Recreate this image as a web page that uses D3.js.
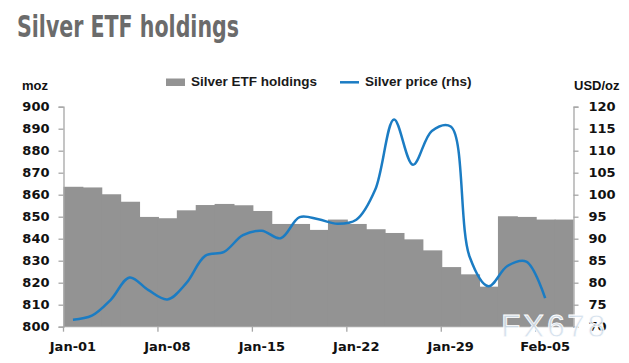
<!DOCTYPE html>
<html>
<head>
<meta charset="utf-8">
<script src="https://cdn.jsdelivr.net/npm/d3@7"></script>
<style>
  body { margin: 0; background: #fff; }
  svg { display: block; }
</style>
</head>
<body>
<svg id="grafiek" width="629" height="363"></svg>
<script>
// trading days (categories)
const days = ["Jan-01", "Jan-02", "Jan-05", "Jan-06", "Jan-07",
  "Jan-08", "Jan-09", "Jan-12", "Jan-13", "Jan-14",
  "Jan-15", "Jan-16", "Jan-19", "Jan-20", "Jan-21",
  "Jan-22", "Jan-23", "Jan-26", "Jan-27", "Jan-28",
  "Jan-29", "Jan-30", "Feb-02", "Feb-03", "Feb-04",
  "Feb-05", "Feb-06"];

// silver ETF holdings, moz
const holdings = [863.6, 863.3, 860.2, 856.8, 849.9, 849.3, 852.9, 855.3, 855.8, 855.2,
  852.6, 846.7, 846.7, 844.0, 848.7, 846.7, 844.3, 842.6, 839.7, 834.7,
  827.1, 823.8, 818.2, 850.2, 849.9, 848.7, 848.7];

// silver price, USD/oz (rhs)
const price = [71.6, 72.5, 76.1, 81.2, 78.3, 76.2, 79.9, 86.1, 87.0, 90.8,
  91.8, 90.1, 94.9, 94.4, 93.4, 94.3, 101.1, 117.1, 106.8, 114.5,
  115.5, 85.9, 79.2, 83.8, 84.8, 76.5];

const leftTicks = [800, 810, 820, 830, 840, 850, 860, 870, 880, 890, 900];
const rightTicks = [70, 75, 80, 85, 90, 95, 100, 105, 110, 115, 120];
const labelDays = ["Jan-01", "Jan-08", "Jan-15", "Jan-22", "Jan-29", "Feb-05"];

const svg = d3.select("#grafiek");
const tickFont = "'DejaVu Sans', Verdana, sans-serif";
const textFont = "'Liberation Sans', Arial, sans-serif";
const axisColor = "#a6a6a6";

//schalen
const x = d3.scaleBand().domain(days).range([63.5, 573.5]).padding(0);
const yL = d3.scaleLinear().domain([800, 900]).range([326.7, 106.7]);
const yR = d3.scaleLinear().domain([70, 120]).range([326.7, 106.7]);

// title
svg.append("text")
  .attr("x", 17).attr("y", 36.5)
  .attr("font-family", "'Liberation Sans Narrow', 'DejaVu Sans Condensed', 'Liberation Sans', sans-serif")
  .attr("font-stretch", "condensed")
  .attr("font-weight", "bold")
  .attr("font-size", 31)
  .attr("fill", "#6b6b6b")
  .attr("textLength", 222)
  .attr("lengthAdjust", "spacingAndGlyphs")
  .text("Silver ETF holdings");

// bars (overlap a little so no seams show between them)
svg.append("g")
  .selectAll("rect")
  .data(holdings)
  .join("rect")
  .attr("x", (d, i) => x(days[i]))
  .attr("width", (d, i) => x.bandwidth() + (i < holdings.length - 1 ? 1 : 0))
  .attr("y", d => yL(d))
  .attr("height", d => yL(800) - yL(d))
  .attr("fill", "#939393");

// price line
const line = d3.line()
  .x((d, i) => x(days[i]) + x.bandwidth() / 2)
  .y(d => yR(d))
  .curve(d3.curveCatmullRom.alpha(0.5));

svg.append("path")
  .datum(price)
  .attr("d", line)
  .attr("fill", "none")
  .attr("stroke", "#1b7cc3")
  .attr("stroke-width", 2.5);

// left axis
const gL = svg.append("g").attr("transform", "translate(63.5,0)")
  .call(d3.axisLeft(yL).tickValues(leftTicks).tickSize(5).tickPadding(9));
// right axis
const gR = svg.append("g").attr("transform", "translate(573.5,0)")
  .call(d3.axisRight(yR).tickValues(rightTicks).tickSize(5).tickPadding(10));
// x axis
const gX = svg.append("g").attr("transform", "translate(0,326.7)")
  .call(d3.axisBottom(x).tickValues(labelDays).tickSize(0).tickPadding(15));

[gL, gR, gX].forEach(g => {
  g.select(".domain").attr("stroke", axisColor).attr("stroke-width", 1.3);
  g.selectAll(".tick line").attr("stroke", axisColor).attr("stroke-width", 1.3);
  g.selectAll("text")
    .attr("font-family", tickFont)
    .attr("font-weight", "bold")
    .attr("font-size", 13)
    .attr("fill", "#111");
});
gX.select(".domain").attr("d", "M63.5,0H573.5");

// x tick marks on the category boundaries
svg.append("g")
  .selectAll("line")
  .data(labelDays)
  .join("line")
  .attr("x1", d => x(d)).attr("x2", d => x(d))
  .attr("y1", 326.7).attr("y2", 331.7)
  .attr("stroke", axisColor).attr("stroke-width", 1.3);

// unit labels
svg.append("text").attr("x", 22).attr("y", 90)
  .attr("font-family", textFont).attr("font-weight", "bold").attr("font-size", 13)
  .attr("fill", "#111").text("moz");
svg.append("text").attr("x", 574).attr("y", 90)
  .attr("font-family", textFont).attr("font-weight", "bold").attr("font-size", 13)
  .attr("fill", "#111").text("USD/oz");

// legend
svg.append("rect").attr("x", 166).attr("y", 78.5).attr("width", 19).attr("height", 7.5)
  .attr("fill", "#939393");
svg.append("text").attr("x", 191).attr("y", 85.5)
  .attr("font-family", textFont).attr("font-weight", "bold").attr("font-size", 13.5)
  .attr("fill", "#1a1a1a").text("Silver ETF holdings");
svg.append("line").attr("x1", 340).attr("x2", 359).attr("y1", 82.3).attr("y2", 82.3)
  .attr("stroke", "#1b7cc3").attr("stroke-width", 2.5);
svg.append("text").attr("x", 365).attr("y", 85.5)
  .attr("font-family", textFont).attr("font-weight", "bold").attr("font-size", 13.5)
  .attr("fill", "#1a1a1a").text("Silver price (rhs)");

// watermark
svg.append("text").attr("x", 501).attr("y", 337)
  .attr("font-family", textFont).attr("font-size", 32)
  .attr("letter-spacing", 2.5)
  .attr("fill", "#d3e0ec").attr("fill-opacity", 0.9)
  .attr("stroke", "#ffffff").attr("stroke-width", 0.8)
  .text("FX678");
</script>
</body>
</html>
